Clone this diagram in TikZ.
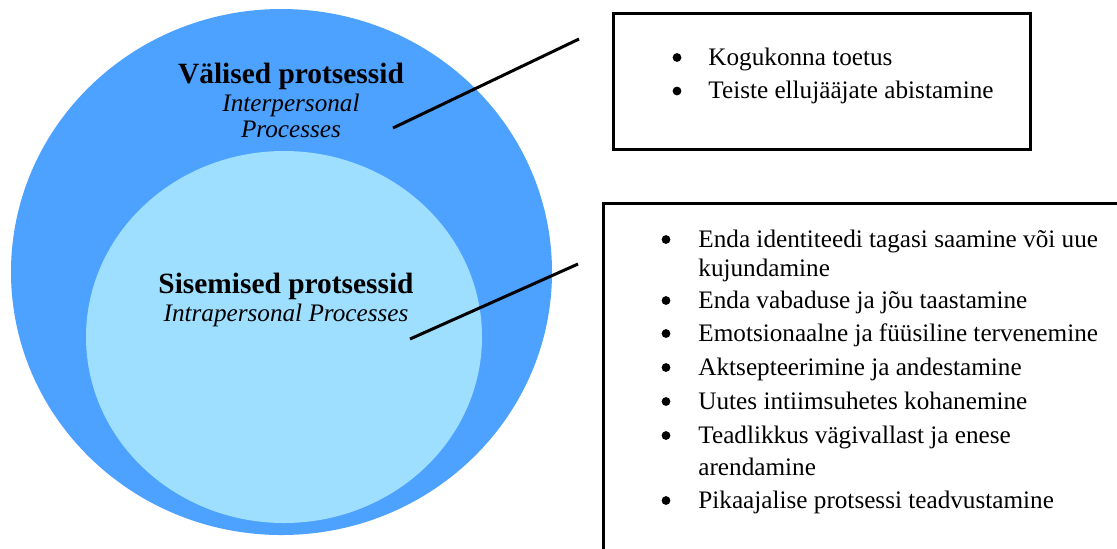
\documentclass[tikz,border=0pt]{standalone}
\usepackage{fontspec}
\setmainfont{Liberation Serif}
\definecolor{outerblue}{RGB}{77,162,255}
\definecolor{innerblue}{RGB}{158,222,255}
\tikzset{
  head/.style={font=\fontsize{14.7}{16}\selectfont\bfseries,anchor=base,inner sep=0pt},
  sub/.style={font=\fontsize{12.6}{14}\selectfont\itshape,anchor=base,inner sep=0pt},
  item/.style={font=\fontsize{12.6}{14}\selectfont,anchor=base west,inner sep=0pt},
  dot/.style={circle,fill,inner sep=0pt,minimum size=4.4pt},
  frame/.style={line width=1.5pt},
  pointer/.style={line width=1.5pt}
}

\begin{document}
\begin{tikzpicture}[x=.5pt,y=-.5pt]
\useasboundingbox(0,0)rectangle(1117,548);
% circles
\fill[outerblue](281.5,272)ellipse[x radius=270.5,y radius=263];
\fill[innerblue](284,337)ellipse[x radius=198,y radius=186];
\node[head](extTitle)at(291,83){Välised protsessid};
\node[sub](extSubA)at(291,111){Interpersonal};\node[sub](extSubB)at(291,137){Processes};
\node[head](intTitle)at(286,293){Sisemised protsessid};
\node[sub](intSub)at(286,321){Intrapersonal Processes};
% pointers
\coordinate(extPtr)at(393,128);\coordinate(extTip)at(579,39);
\coordinate(intPtr)at(410,339);\coordinate(intTip)at(578,264);
\draw[pointer](extPtr)--(extTip);\draw[pointer](intPtr)--(intTip);
% boxes
\draw[frame](613.5,13.5)rectangle(1030,149);
\draw[frame](603.5,203.5)rectangle(1130,560);
\foreach \y/\t [count=\i] in {65/Kogukonna toetus,98.5/Teiste ellujääjate abistamine}{
  \node[dot](topDot\i)at(677,\y-7.5){};\node[item](topItem\i)at(708,\y){\t};}
\foreach \y [count=\i] in {247,308,341,375,409,443,508}
  \node[dot](lowDot\i)at(666,\y-7.5){};
\foreach \y/\t [count=\i] in {247/Enda identiteedi tagasi saamine või uue,276/kujundamine,
  308/Enda vabaduse ja jõu taastamine,341/Emotsionaalne ja füüsiline tervenemine,
  375/Aktsepteerimine ja andestamine,409/Uutes intiimsuhetes kohanemine,
  443/Teadlikkus vägivallast ja enese,475/arendamine,508/Pikaajalise protsessi teadvustamine}
  \node[item](lowLine\i)at(698,\y){\t};
\end{tikzpicture}
\end{document}
